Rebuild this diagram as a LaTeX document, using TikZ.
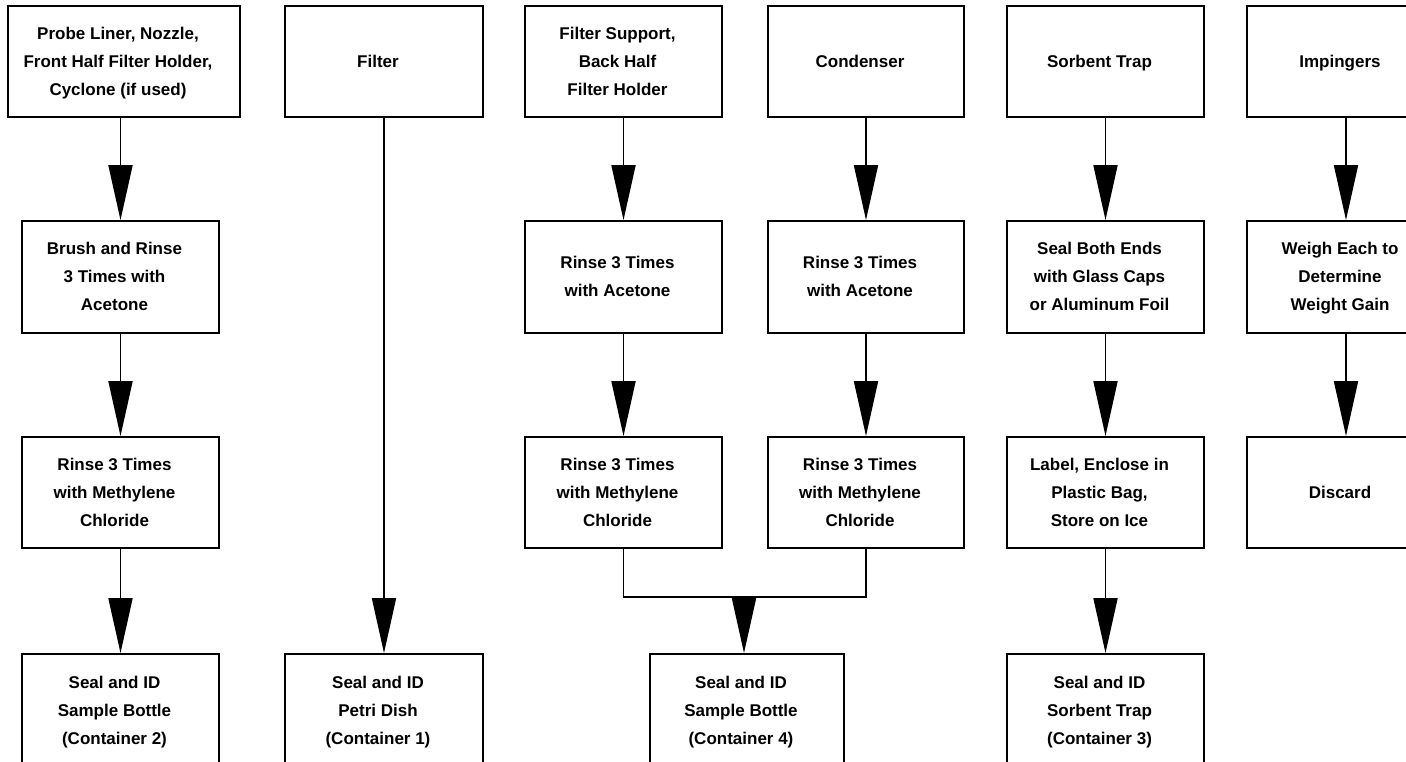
\documentclass[tikz,border=0pt]{standalone}
\usepackage{fontspec}
\setmainfont{Liberation Sans}
\usetikzlibrary{arrows.meta}
\newcommand\boxtxt[1]{\begin{tabular}{@{}c@{}}#1\end{tabular}\hspace*{12pt}}
\begin{document}
\begin{tikzpicture}[x=1pt,y=-1pt,
  box/.style={draw=black, line width=1.8pt, rectangle, inner sep=0pt,
    font=\fontsize{17}{28}\selectfont\bfseries},
  arr/.style={line width=1.8pt, -{Triangle[length=55pt,width=24pt]}},
  link/.style={line width=1.8pt}]
\fill[white] (0,0) rectangle (1406,762);
\useasboundingbox (0,0) rectangle (1406,762);
\clip (0,0) rectangle (1406,762);
% row 1
\node[box, minimum width=232pt, minimum height=111pt] (r1c1) at (124,61.5) {\boxtxt{Probe Liner, Nozzle,\\Front Half Filter Holder,\\Cyclone (if used)}};
\node[box, minimum width=198pt, minimum height=111pt] (r1c2) at (384,61.5) {\boxtxt{Filter}};
\node[box, minimum width=197pt, minimum height=111pt] (r1c3) at (623.5,61.5) {\boxtxt{Filter Support,\\Back Half\\Filter Holder}};
\node[box, minimum width=196pt, minimum height=111pt] (r1c4) at (866,61.5) {\boxtxt{Condenser}};
\node[box, minimum width=197pt, minimum height=111pt] (r1c5) at (1105.5,61.5) {\boxtxt{Sorbent Trap}};
\node[box, minimum width=198pt, minimum height=111pt] (r1c6) at (1346,61.5) {\boxtxt{Impingers}};
% row 2
\node[box, minimum width=197pt, minimum height=112pt] (r2c1) at (120.5,277) {\boxtxt{Brush and Rinse\\3 Times with\\Acetone}};
\node[box, minimum width=197pt, minimum height=112pt] (r2c3) at (623.5,277) {\boxtxt{Rinse 3 Times\\with Acetone}};
\node[box, minimum width=196pt, minimum height=112pt] (r2c4) at (866,277) {\boxtxt{Rinse 3 Times\\with Acetone}};
\node[box, minimum width=197pt, minimum height=112pt] (r2c5) at (1105.5,277) {\boxtxt{Seal Both Ends\\with Glass Caps\\or Aluminum Foil}};
\node[box, minimum width=198pt, minimum height=112pt] (r2c6) at (1346,277) {\boxtxt{Weigh Each to\\Determine\\Weight Gain}};
% row 3
\node[box, minimum width=197pt, minimum height=111pt] (r3c1) at (120.5,492.5) {\boxtxt{Rinse 3 Times\\with Methylene\\Chloride}};
\node[box, minimum width=197pt, minimum height=111pt] (r3c3) at (623.5,492.5) {\boxtxt{Rinse 3 Times\\with Methylene\\Chloride}};
\node[box, minimum width=196pt, minimum height=111pt] (r3c4) at (866,492.5) {\boxtxt{Rinse 3 Times\\with Methylene\\Chloride}};
\node[box, minimum width=197pt, minimum height=111pt] (r3c5) at (1105.5,492.5) {\boxtxt{Label, Enclose in\\Plastic Bag,\\Store on Ice}};
\node[box, minimum width=198pt, minimum height=111pt] (r3c6) at (1346,492.5) {\boxtxt{Discard}};
% row 4
\node[box, minimum width=197pt, minimum height=114pt] (r4c1) at (120.5,711) {\boxtxt{Seal and ID\\Sample Bottle\\(Container 2)}};
\node[box, minimum width=198pt, minimum height=114pt] (r4c2) at (384,711) {\boxtxt{Seal and ID\\Petri Dish\\(Container 1)}};
\node[box, minimum width=194pt, minimum height=114pt] (r4c4) at (747,711) {\boxtxt{Seal and ID\\Sample Bottle\\(Container 4)}};
\node[box, minimum width=197pt, minimum height=114pt] (r4c5) at (1105.5,711) {\boxtxt{Seal and ID\\Sorbent Trap\\(Container 3)}};
% connectors
\draw[arr] (r2c1.north |- r1c1.south) -- (r2c1.north);
\draw[arr] (r2c1.south) -- (r3c1.north);
\draw[arr] (r3c1.south) -- (r4c1.north);
\draw[arr] (r1c2.south) -- (r4c2.north);
\draw[arr] (r1c3.south) -- (r2c3.north);
\draw[arr] (r2c3.south) -- (r3c3.north);
\draw[arr] (r1c4.south) -- (r2c4.north);
\draw[arr] (r2c4.south) -- (r3c4.north);
\coordinate (m) at (744,597);
\draw[link] (r3c3.south) |- (m) -| (r3c4.south);
\draw[arr] (m) -- (m |- r4c4.north);
\draw[arr] (r1c5.south) -- (r2c5.north);
\draw[arr] (r2c5.south) -- (r3c5.north);
\draw[arr] (r3c5.south) -- (r4c5.north);
\draw[arr] (r1c6.south) -- (r2c6.north);
\draw[arr] (r2c6.south) -- (r3c6.north);
\end{tikzpicture}
\end{document}
